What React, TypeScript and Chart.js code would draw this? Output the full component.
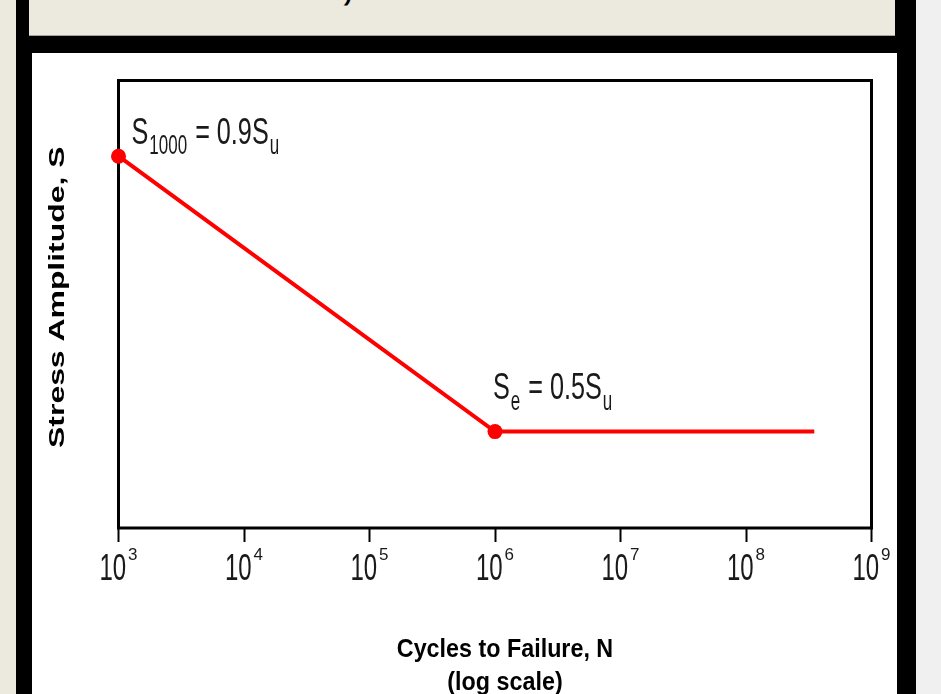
import React, { useEffect, useRef } from "react";
import { Chart, registerables } from "chart.js";

Chart.register(...registerables);

// ---- data ----
const CYCLES = [1e3, 1e6, 3.5e8];
const STRESS = [0.9, 0.5, 0.5];
const POINT_RADII = [7.5, 7.5, 0];
const TICK_VALUES = [1e3, 1e4, 1e5, 1e6, 1e7, 1e8, 1e9];
const TICK_BASES = ["10", "10", "10", "10", "10", "10", "10"];
const TICK_EXPONENTS = ["3", "4", "5", "6", "7", "8", "9"];
const X_TITLE = ["Cycles to Failure, N", "(log scale)"];
const Y_TITLE = "Stress Amplitude, S";
const NOTE_ENDURANCE_LOW = [
  { text: "S", sub: false },
  { text: "1000", sub: true },
  { text: " = 0.9S", sub: false },
  { text: "u", sub: true },
];
const NOTE_ENDURANCE_HIGH = [
  { text: "S", sub: false },
  { text: "e", sub: true },
  { text: " = 0.5S", sub: false },
  { text: "u", sub: true },
];
const Y_MIN = 0.36;
const Y_MAX = 1.01;

const FAMILY = '"Liberation Sans", Arial, Helvetica, sans-serif';
const TEXT_COLOR = "#1a1a1a";

function drawRun(
  ctx: CanvasRenderingContext2D,
  x: number,
  baseline: number,
  text: string,
  font: string,
  sx: number,
  sy: number
): number {
  ctx.save();
  ctx.font = font;
  ctx.textAlign = "left";
  ctx.textBaseline = "alphabetic";
  ctx.translate(x, baseline);
  ctx.scale(sx, sy);
  ctx.fillText(text, 0, 0);
  const w = ctx.measureText(text).width * sx;
  ctx.restore();
  return w;
}

function measure(ctx: CanvasRenderingContext2D, text: string, font: string, sx: number) {
  ctx.save();
  ctx.font = font;
  const w = ctx.measureText(text).width * sx;
  ctx.restore();
  return w;
}

const MAIN_FONT = `24px ${FAMILY}`;
const SUB_FONT = `17px ${FAMILY}`;

function drawNote(
  ctx: CanvasRenderingContext2D,
  runs: { text: string; sub: boolean }[],
  x: number,
  baseline: number,
  subBaseline: number
) {
  let cx = x;
  runs.forEach((r) => {
    if (r.sub) {
      cx += 1;
      cx += drawRun(ctx, cx, subBaseline, r.text, SUB_FONT, 1, 1.6);
      cx += 1;
    } else {
      cx += drawRun(ctx, cx, baseline, r.text, MAIN_FONT, 1.05, 1.5);
    }
  });
}

const framePlugin = {
  id: "frame",
  beforeDatasetsDraw(chart: any) {
    const { ctx, chartArea: ca } = chart;
    ctx.save();
    ctx.strokeStyle = "#000";
    ctx.lineWidth = 3;
    ctx.strokeRect(ca.left, ca.top, ca.right - ca.left, ca.bottom - ca.top);
    ctx.restore();
  },
};

const textPlugin = {
  id: "texts",
  afterDraw(chart: any) {
    const { ctx, chartArea: ca } = chart;
    const xs = chart.scales.x;
    ctx.save();
    ctx.fillStyle = TEXT_COLOR;

    // tick labels 10^n
    const baseFont = `24px ${FAMILY}`;
    const supFont = `17px ${FAMILY}`;
    TICK_VALUES.forEach((v, i) => {
      const px = xs.getPixelForValue(v);
      const wb = measure(ctx, TICK_BASES[i], baseFont, 1);
      const ws = measure(ctx, TICK_EXPONENTS[i], supFont, 1);
      const gap = 2;
      const start = px - (wb + gap + ws) / 2;
      drawRun(ctx, start, ca.bottom + 52, TICK_BASES[i], baseFont, 1, 1.5);
      drawRun(ctx, start + wb + gap, ca.bottom + 32, TICK_EXPONENTS[i], supFont, 1, 1.0);
    });

    // annotations at the data points
    const meta = chart.getDatasetMeta(0);
    const p0 = meta.data[0];
    const p1 = meta.data[1];
    drawNote(ctx, NOTE_ENDURANCE_LOW, p0.x + 13, p0.y - 12, p0.y - 2);
    drawNote(ctx, NOTE_ENDURANCE_HIGH, p1.x - 2, p1.y - 33, p1.y - 22);

    // x title
    ctx.fillStyle = "#000";
    const xt = `bold 22px ${FAMILY}`;
    const cx = (ca.left + ca.right) / 2 + 10;
    [ca.bottom + 129, ca.bottom + 162].forEach((b, i) => {
      const w = measure(ctx, X_TITLE[i], xt, 1.06);
      drawRun(ctx, cx - w / 2, b, X_TITLE[i], xt, 1.06, 1.2);
    });

    // y title (rotated)
    const yt = `bold 22px ${FAMILY}`;
    ctx.save();
    ctx.translate(ca.left - 54.5, (ca.top + ca.bottom) / 2 - 7);
    ctx.rotate(-Math.PI / 2);
    ctx.scale(1.45, 1);
    ctx.font = yt;
    ctx.textAlign = "center";
    ctx.textBaseline = "alphabetic";
    ctx.fillText(Y_TITLE, 0, 0);
    ctx.restore();

    ctx.restore();
  },
};

function SNChart() {
  const ref = useRef<HTMLCanvasElement | null>(null);
  useEffect(() => {
    if (!ref.current) return;
    const chart = new Chart(ref.current, {
      type: "line",
      data: {
        datasets: [
          {
            data: CYCLES.map((x, i) => ({ x, y: STRESS[i] })),
            borderColor: "#ff0000",
            backgroundColor: "#ff0000",
            borderWidth: 4,
            pointRadius: POINT_RADII,
            pointHoverRadius: POINT_RADII,
            pointBorderWidth: 0,
            pointBackgroundColor: "#ff0000",
            tension: 0,
            fill: false,
            clip: false,
          } as any,
        ],
      },
      options: {
        animation: false,
        responsive: false,
        devicePixelRatio: 1,
        events: [],
        layout: { padding: { left: 0, right: 25.5, top: 27.5, bottom: 0 } },
        plugins: { legend: { display: false }, tooltip: { enabled: false } },
        scales: {
          x: {
            type: "logarithmic",
            position: "bottom",
            min: 1e3,
            max: 1e9,
            afterBuildTicks: (s: any) => {
              s.ticks = TICK_VALUES.map((v) => ({ value: v }));
            },
            afterFit: (s: any) => {
              s.height = 166;
            },
            ticks: { display: false },
            grid: {
              display: true,
              drawOnChartArea: false,
              drawTicks: true,
              tickLength: 14,
              tickWidth: 2,
              tickColor: "#000",
            },
            border: { display: false },
          },
          y: {
            type: "linear",
            min: Y_MIN,
            max: Y_MAX,
            afterFit: (s: any) => {
              s.width = 86.5;
            },
            ticks: { display: false },
            grid: { display: false },
            border: { display: false },
          },
        },
      } as any,
      plugins: [framePlugin, textPlugin],
    });
    return () => chart.destroy();
  }, []);
  return <canvas ref={ref} width={865} height={641} style={{ display: "block", width: 865, height: 641 }} />;
}

export default function App() {
  return (
    <div
      style={{
        position: "fixed",
        left: 0,
        top: 0,
        width: 941,
        height: 694,
        background: "#ECE9DE",
        overflow: "hidden",
      }}
    >
      <div style={{ position: "absolute", left: 916, top: 0, width: 25, height: 694, background: "#F0F0F0" }} />
      <div style={{ position: "absolute", left: 16, top: 0, width: 900, height: 694, background: "#000" }} />
      <div
        style={{
          position: "absolute",
          left: 29,
          top: 0,
          width: 866,
          height: 35,
          background: "#ECE9DE",
          borderBottom: "1px solid #A5A39C",
          overflow: "hidden",
        }}
      >
        <div
          style={{
            position: "absolute",
            left: 315,
            top: -35,
            fontFamily: FAMILY,
            fontSize: 40,
            fontWeight: "bold",
            fontStyle: "italic",
            lineHeight: 1,
            color: "#000",
          }}
        >
          ,
        </div>
      </div>
      <div style={{ position: "absolute", left: 32, top: 53, width: 865, height: 641, background: "#fff" }}>
        <SNChart />
      </div>
    </div>
  );
}
